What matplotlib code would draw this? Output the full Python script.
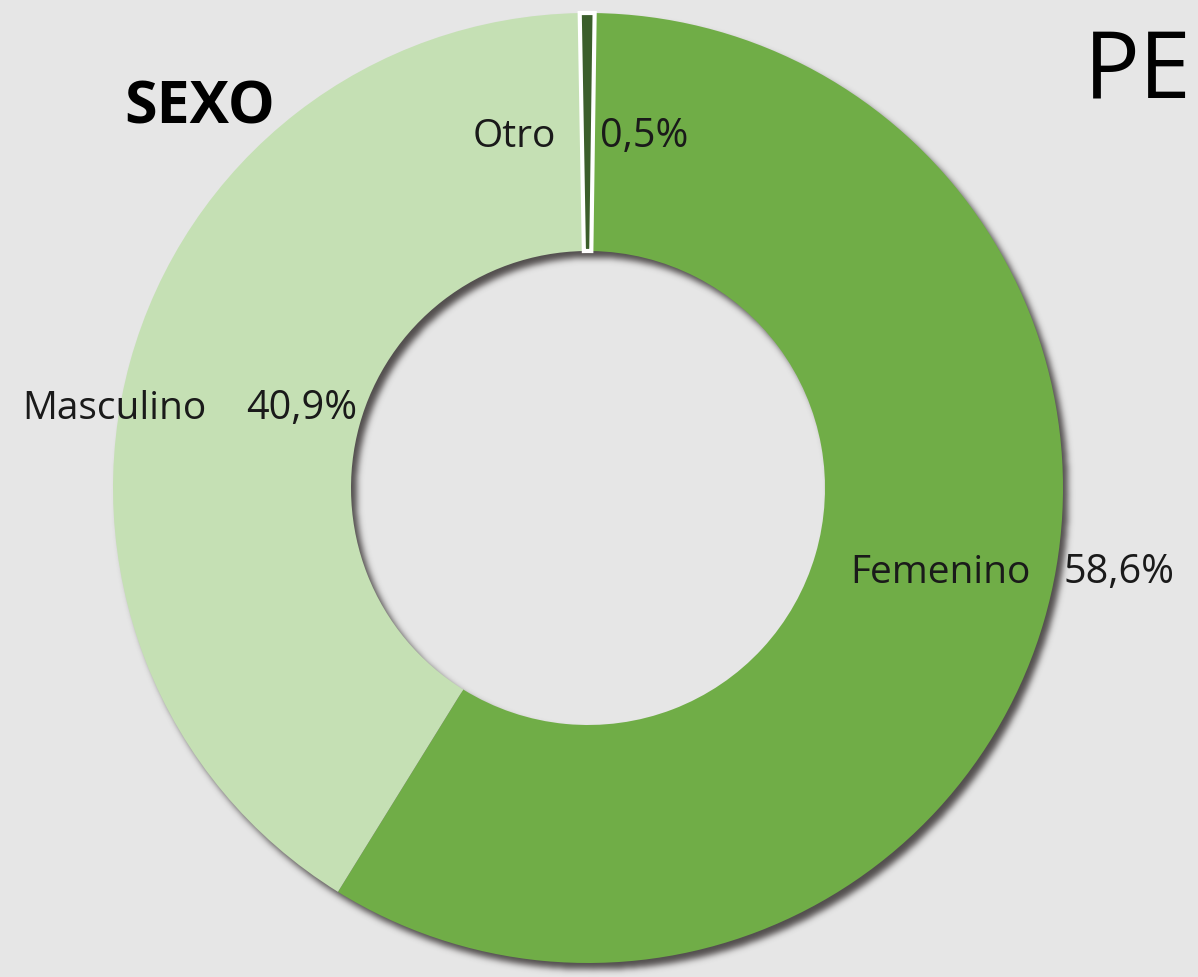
import numpy as np
import matplotlib
matplotlib.use("Agg")
import matplotlib.pyplot as plt

# Data
categories = ["Femenino", "Masculino", "Otro"]
values = [58.6, 40.9, 0.5]
value_labels = ["58,6%", "40,9%", "0,5%"]
colors = ["#70ad47", "#c5e0b4", "#3b5e2b"]

W, H = 1198, 977
BG = "#e6e6e6"
cx, cy_pix = 588, 488
R_OUT, R_IN = 475, 237

fig = plt.figure(figsize=(W / 100, H / 100), dpi=100, facecolor=BG)
ax = fig.add_axes([0, 0, 1, 1])
ax.set_facecolor(BG)
ax.set_xlim(0, W)
ax.set_ylim(0, H)
ax.axis("off")

# Soft drop shadow of the ring (decoration)
yy, xx = np.mgrid[0:H, 0:W]
sdx, sdy = 5, 6
rr = np.hypot(xx - (cx + sdx), yy - (cy_pix + sdy))
mask = ((rr <= R_OUT) & (rr >= R_IN)).astype(float)
k = np.exp(-0.5 * (np.arange(-10, 11) / 3.2) ** 2)
k /= k.sum()
mask = np.apply_along_axis(lambda r: np.convolve(r, k, mode="same"), 1, mask)
mask = np.apply_along_axis(lambda c: np.convolve(c, k, mode="same"), 0, mask)
shadow = np.zeros((H, W, 4))
shadow[..., 0] = 0.22
shadow[..., 1] = 0.2
shadow[..., 2] = 0.2
shadow[..., 3] = mask * 0.85
ax.imshow(shadow, extent=(0, W, 0, H), origin="upper", zorder=1, interpolation="bilinear")

cy = H - cy_pix
wedges, _ = ax.pie(values, colors=colors, startangle=89.2, counterclock=False,
                   center=(cx, cy), radius=R_OUT,
                   wedgeprops=dict(width=R_OUT - R_IN, linewidth=0))
for w in wedges:
    w.set_zorder(2)
wedges[2].set_edgecolor("white")
wedges[2].set_linewidth(3)
wedges[2].set_zorder(3)
ax.set_xlim(0, W)
ax.set_ylim(0, H)
ax.set_aspect("auto")

font = "Open Sans"
cat_pos = [(850, 583), (22, 419), (473, 147)]
val_cx = [1119, 302, 644]
for (x, yb), vx, cat, lab in zip(cat_pos, val_cx, categories, value_labels):
    ax.text(x, H - yb, cat, ha="left", va="baseline",
            fontsize=28, family=font, color="#1a1a1a", zorder=5)
    ax.text(vx, H - yb, lab, ha="center", va="baseline",
            fontsize=28.5, family=font, color="#1a1a1a", zorder=5)

ax.text(124, H - 123, "SEXO", ha="left", va="baseline", fontsize=42.5,
        family=font, fontweight="bold", color="black", zorder=5)
ax.text(1084, H - 98, "PE", ha="left", va="baseline", fontsize=67,
        family=font, color="black", zorder=5)

fig.savefig("out.png", dpi=100, facecolor=BG)
